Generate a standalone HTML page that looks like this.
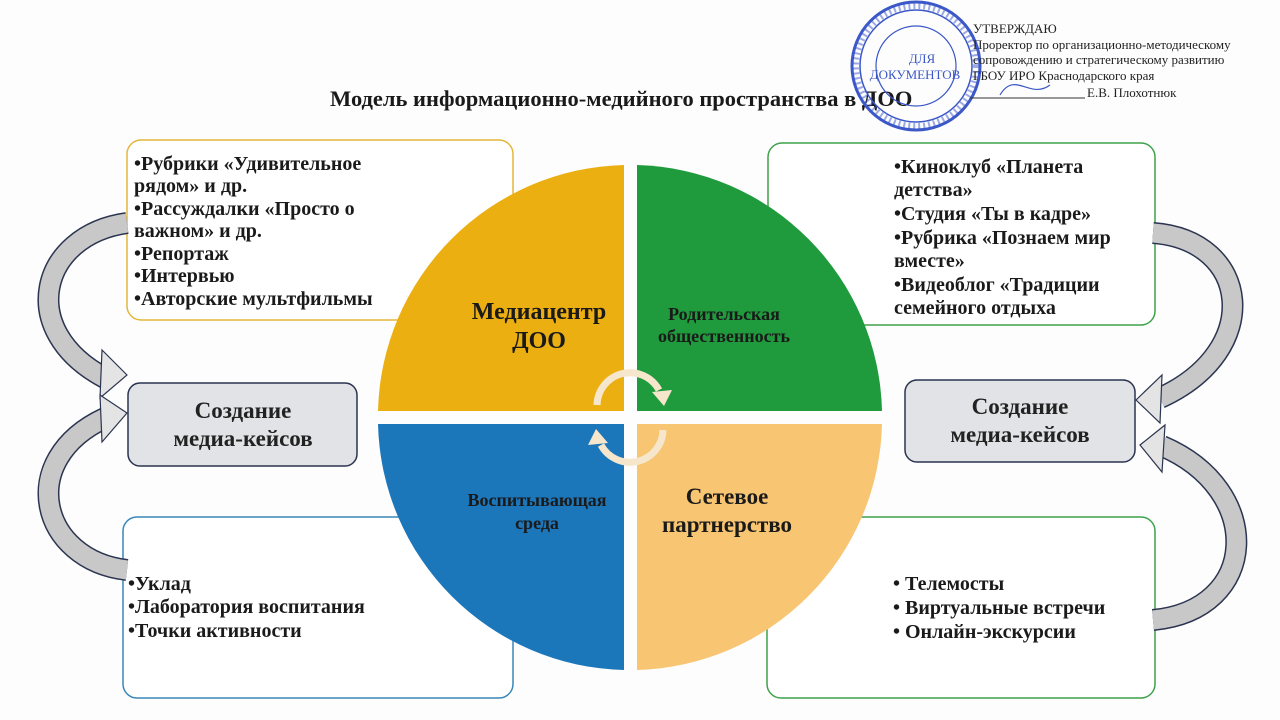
<!DOCTYPE html>
<html><head><meta charset="utf-8"><style>
html,body{margin:0;padding:0;background:#fff;}
svg{display:block;}
text{font-family:"Liberation Serif",serif;}
</style></head><body>
<svg width="1280" height="720" viewBox="0 0 1280 720" xmlns="http://www.w3.org/2000/svg">
<rect width="1280" height="720" fill="#fdfdfd"/>
<rect x="127" y="140" width="386" height="180" rx="14" fill="#fff" stroke="#e2b73a" stroke-width="1.5"/>
<rect x="768" y="143" width="387" height="182" rx="14" fill="#fff" stroke="#3fa24a" stroke-width="1.5"/>
<rect x="123" y="517" width="390" height="181" rx="14" fill="#fff" stroke="#3a88b8" stroke-width="1.5"/>
<rect x="767" y="517" width="388" height="181" rx="14" fill="#fff" stroke="#3fa24a" stroke-width="1.5"/>
<rect x="128" y="383" width="229" height="83" rx="12" fill="#e2e3e6" stroke="#2b3450" stroke-width="1.5"/>
<rect x="905" y="380" width="230" height="82" rx="12" fill="#e2e3e6" stroke="#2b3450" stroke-width="1.5"/>
<g fill="none" stroke-linecap="butt">
<path d="M127 223 C40 235 15 330 105 378" stroke="#2b3450" stroke-width="22"/>
<path d="M127 223 C40 235 15 330 105 378" stroke="#c8c8c8" stroke-width="19"/>
<path d="M127 570 C40 560 15 460 105 418" stroke="#2b3450" stroke-width="22"/>
<path d="M127 570 C40 560 15 460 105 418" stroke="#c8c8c8" stroke-width="19"/>
<path d="M1153 233 C1250 240 1265 350 1160 398" stroke="#2b3450" stroke-width="22"/>
<path d="M1153 233 C1250 240 1265 350 1160 398" stroke="#c8c8c8" stroke-width="19"/>
<path d="M1153 620 C1260 610 1265 490 1162 446" stroke="#2b3450" stroke-width="22"/>
<path d="M1153 620 C1260 610 1265 490 1162 446" stroke="#c8c8c8" stroke-width="19"/>
</g>
<g fill="#e4e4e4" stroke="#2b3450" stroke-width="1.2">
<polygon points="127,375 102,350 100,398"/>
<polygon points="127,413 100,395 102,442"/>
<polygon points="1136,400 1162,375 1160,423"/>
<polygon points="1140,445 1165,425 1162,472"/>
</g>
<path d="M624 411 L624 165 A252 252 0 0 0 378 411 Z" fill="#ebaf12"/>
<path d="M637 411 L637 165 A252 252 0 0 1 882 411 Z" fill="#1f9a3c"/>
<path d="M624 424 L378 424 A252 252 0 0 0 624 670 Z" fill="#1c76ba"/>
<path d="M637 424 L882 424 A252 252 0 0 1 637 670 Z" fill="#f8c572"/>
<g fill="none" stroke="#f6e6cc" stroke-width="7">
<path d="M597 405 A33 33 0 0 1 659 390"/>
<path d="M663 430 A33 33 0 0 1 601 445"/>
</g>
<polygon points="652,392 672,390 664,406" fill="#f6e6cc"/>
<polygon points="608,443 588,445 596,429" fill="#f6e6cc"/>
<g font-weight="bold" fill="#1a1a1a" text-anchor="middle">
<text x="539" y="319" font-size="24">Медиацентр</text>
<text x="539" y="348" font-size="24">ДОО</text>
<text x="724" y="320" font-size="18">Родительская</text>
<text x="724" y="342" font-size="18">общественность</text>
<text x="537" y="506" font-size="18">Воспитывающая</text>
<text x="537" y="529" font-size="18">среда</text>
<text x="727" y="504" font-size="23">Сетевое</text>
<text x="727" y="532" font-size="23">партнерство</text>
<text x="243" y="418" font-size="23" fill="#222">Создание</text>
<text x="243" y="446" font-size="23" fill="#222">медиа-кейсов</text>
<text x="1020" y="414" font-size="23" fill="#222">Создание</text>
<text x="1020" y="442" font-size="23" fill="#222">медиа-кейсов</text>
</g>
<g font-weight="bold" font-size="20" fill="#1a1a1a">
<text x="134" y="170">•Рубрики «Удивительное</text>
<text x="134" y="192">рядом» и др.</text>
<text x="134" y="215">•Рассуждалки «Просто о</text>
<text x="134" y="237">важном» и др.</text>
<text x="134" y="260">•Репортаж</text>
<text x="134" y="282">•Интервью</text>
<text x="134" y="305">•Авторские мультфильмы</text>
<text x="894" y="173">•Киноклуб «Планета</text>
<text x="894" y="196">детства»</text>
<text x="894" y="220">•Студия «Ты в кадре»</text>
<text x="894" y="244">•Рубрика «Познаем мир</text>
<text x="894" y="267">вместе»</text>
<text x="894" y="291">•Видеоблог «Традиции</text>
<text x="894" y="314">семейного отдыха</text>
<text x="128" y="590">•Уклад</text>
<text x="128" y="613">•Лаборатория воспитания</text>
<text x="128" y="637">•Точки активности</text>
<text x="893" y="590">•  Телемосты</text>
<text x="893" y="614">•  Виртуальные встречи</text>
<text x="893" y="638">•  Онлайн-экскурсии</text>
</g>
<text x="330" y="106" font-size="22.5" font-weight="bold" fill="#1a1a1a">Модель информационно-медийного пространства в ДОО</text>
<g fill="none" stroke="#3b57c8">
<circle cx="916" cy="66" r="64" stroke-width="3"/>
<circle cx="916" cy="66" r="56" stroke-width="1.5"/>
<circle cx="916" cy="66" r="40" stroke-width="1.2"/>
<circle cx="916" cy="66" r="60" stroke-width="6" stroke-dasharray="2 3" opacity="0.5"/>
</g>
<text x="922" y="63" font-family="Liberation Sans" font-size="13" fill="#3b57c8" text-anchor="middle">ДЛЯ</text>
<text x="915" y="79" font-family="Liberation Sans" font-size="13" fill="#3b57c8" text-anchor="middle">ДОКУМЕНТОВ</text>
<g font-size="13" fill="#222">
<text x="973" y="33">УТВЕРЖДАЮ</text>
<text x="973" y="49">Проректор по организационно-методическому</text>
<text x="973" y="64">сопровождению и стратегическому развитию</text>
<text x="973" y="80">ГБОУ ИРО Краснодарского края</text>
<text x="1087" y="97">Е.В. Плохотнюк</text>
</g>
<line x1="970" y1="98" x2="1085" y2="98" stroke="#333" stroke-width="1"/>
<path d="M1000 95 C1015 70 1030 100 1050 85" stroke="#3b57c8" fill="none" stroke-width="1.2"/>
</svg>
</body></html>
